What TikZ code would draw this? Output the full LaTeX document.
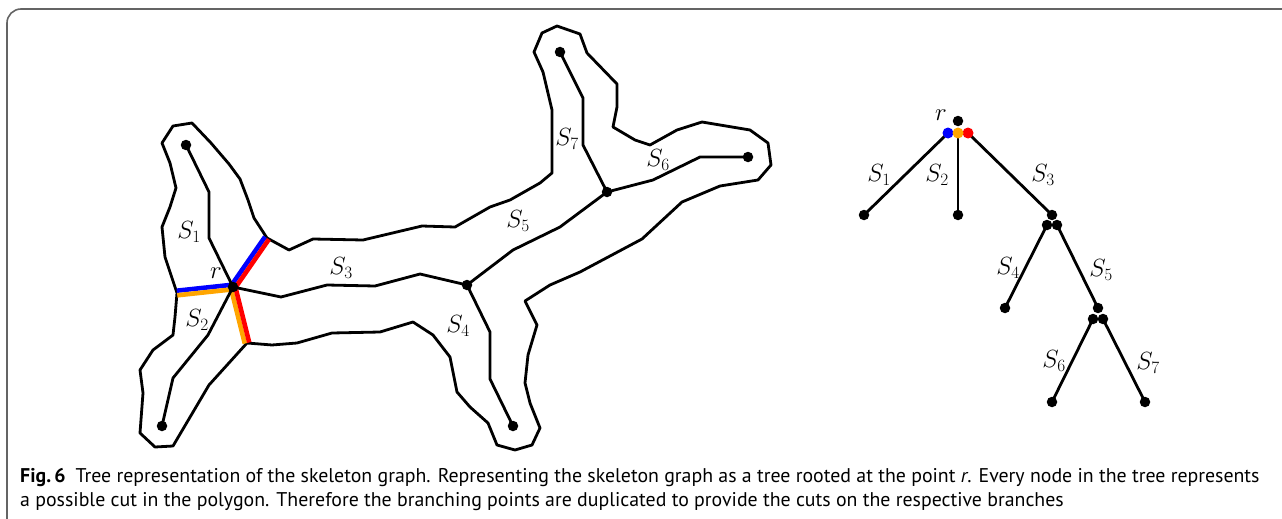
\documentclass[tikz,border=0pt]{standalone}
\usepackage{fontspec}
\setsansfont{PT Sans}
\begin{document}
\begin{tikzpicture}[x=1pt,y=-1pt,
  outline/.style={line width=2.8pt,line join=round},
  skel/.style={line width=2.8pt,line join=round},
  dot/.style={circle,fill=black,inner sep=0pt,minimum size=10.5pt},
  cdot/.style={circle,fill=#1,inner sep=0pt,minimum size=11pt},
  lab/.style={font=\fontsize{24}{24}\selectfont,inner sep=0pt},
  cut/.style={line width=4.6pt,draw=#1},
  captext/.style={anchor=base west,inner sep=0pt,font=\sffamily\fontsize{19.85}{24}\selectfont}]
\useasboundingbox (0,0) rectangle (1282,519);
\definecolor{cutblue}{RGB}{0,0,255}
\definecolor{cutred}{RGB}{255,0,0}
\definecolor{cutorange}{RGB}{255,165,0}
\definecolor{framegray}{RGB}{100,100,100}

% frame of the figure
\draw[framegray,line width=1.6pt,rounded corners=14pt] (7,519) -- (7,9) -- (1282,9);

% polygon outline
\draw[outline] (267,238) -- (289,250) -- (313,239) -- (363,240) -- (422,226) -- (455,227)
  -- (490,207) -- (510,200) -- (540,183) -- (552,173) -- (552,110) -- (543,72) -- (534,52)
  -- (542,33) -- (557,26) -- (580,34) -- (587,53) -- (617,84) -- (617,107) -- (613,127)
  -- (635,140) -- (650,145) -- (677,130) -- (702,122) -- (750,130) -- (768,143) -- (771,165)
  -- (758,180) -- (720,186) -- (682,202) -- (642,239) -- (580,272) -- (550,285) -- (525,301)
  -- (537,325) -- (528,355) -- (525,383) -- (530,403) -- (540,428) -- (532,445) -- (515,450)
  -- (497,445) -- (488,423) -- (470,407) -- (457,392) -- (450,357) -- (433,335) -- (413,322)
  -- (380,332) -- (332,333) -- (297,343) -- (272,345) -- (247,343) -- (209,385) -- (173,446)
  -- (155,447) -- (140,433) -- (143,393) -- (140,370) -- (153,350) -- (173,335) -- (175,317)
  -- (177,293) -- (165,257) -- (162,227) -- (170,207) -- (176,188) -- (170,163) -- (162,143)
  -- (173,126) -- (192,123) -- (211,143) -- (229,164) -- (240,179) -- (248,200) -- (254,218)
  -- cycle;

% cut ends on the outline
\coordinate (ct) at (267,238);
\coordinate (cl) at (177,293);
\coordinate (cb) at (247,343);
\coordinate (rc) at (233,287);

% cuts around r, two colours per cut
\draw[cut=cutblue]   ([shift={(-1.9,-1.3)}]rc) -- ([shift={(-1.9,-1.3)}]ct);
\draw[cut=cutred]    ([shift={(1.9,1.3)}]rc) -- ([shift={(1.9,1.3)}]ct);
\draw[cut=cutblue]   ([shift={(-0.25,-2.3)}]cl) -- ([shift={(-0.25,-2.3)}]rc);
\draw[cut=cutorange] ([shift={(0.25,2.3)}]cl) -- ([shift={(0.25,2.3)}]rc);
\draw[cut=cutorange] ([shift={(-2.2,0.55)}]rc) -- ([shift={(-2.2,0.55)}]cb);
\draw[cut=cutred]    ([shift={(2.2,-0.55)}]rc) -- ([shift={(2.2,-0.55)}]cb);

% skeleton graph
\node[dot] (r)  at (233,287) {};
\node[dot] (e1) at (186,145) {};
\node[dot] (e2) at (162,426) {};
\node[dot] (j1) at (467,285) {};
\node[dot] (e4) at (513,426) {};
\node[dot] (j2) at (607,192) {};
\node[dot] (e6) at (748,157) {};
\node[dot] (e7) at (560,52) {};

\draw[skel] (r.center) -- (209,238) -- (209,192) -- (e1.center);
\draw[skel] (r.center) -- (208,335) -- (173,378) -- (e2.center);
\draw[skel] (r.center) -- (281,297) -- (327,285) -- (375,286) -- (420,274) -- (j1.center);
\draw[skel] (j1.center) -- (490,332) -- (490,379) -- (e4.center);
\draw[skel] (j1.center) -- (513,250) -- (560,227) -- (j2.center);
\draw[skel] (j2.center) -- (653,180) -- (700,157) -- (e6.center);
\draw[skel] (j2.center) -- (583,145) -- (583,98) -- (e7.center);

\node[lab] (lr)  at (216,273) {$r$};
\node[lab] (l1)  at (189,232) {$S_1$};
\node[lab] (l2)  at (197,320) {$S_2$};
\node[lab] (l3)  at (341,268) {$S_3$};
\node[lab] (l4)  at (458,326) {$S_4$};
\node[lab] (l5)  at (518,221) {$S_5$};
\node[lab] (l6)  at (658,160) {$S_6$};
\node[lab] (l7)  at (567,139) {$S_7$};

% tree
\node[dot] (tr)  at (958,121) {};
\coordinate (tb) at (948,133);
\coordinate (to) at (958,133);
\coordinate (tR) at (968,133);
\node[dot] (t1)  at (864,215) {};
\node[dot] (t2)  at (958,215) {};
\node[dot] (t3)  at (1052,215) {};
\node[dot] (t3a) at (1047,225) {};
\node[dot] (t3b) at (1057,225) {};
\node[dot] (t4)  at (1005,308) {};
\node[dot] (t5)  at (1098,308) {};
\node[dot] (t5a) at (1093,319) {};
\node[dot] (t5b) at (1103,319) {};
\node[dot] (t6)  at (1052,402) {};
\node[dot] (t7)  at (1145,402) {};

\draw[skel] (tb) -- (t1.center);
\draw[skel] (to) -- (t2.center);
\draw[skel] (tR) -- (t3.center);
\draw[skel] (t3a.center) -- (t4.center);
\draw[skel] (t3b.center) -- (t5.center);
\draw[skel] (t5a.center) -- (t6.center);
\draw[skel] (t5b.center) -- (t7.center);

% coloured copies of the root, one per branch
\node[cdot=cutblue]   (tbd) at (tb) {};
\node[cdot=cutred]    (tRd) at (tR) {};
\node[cdot=cutorange] (tod) at (to) {};

\node[lab] (tlr) at (941,115) {$r$};
\node[lab] (tl1) at (879,175) {$S_1$};
\node[lab] (tl2) at (937,175) {$S_2$};
\node[lab] (tl3) at (1043,175) {$S_3$};
\node[lab] (tl4) at (1008,268) {$S_4$};
\node[lab] (tl5) at (1101,270) {$S_5$};
\node[lab] (tl6) at (1054,361) {$S_6$};
\node[lab] (tl7) at (1148,363) {$S_7$};

% caption
\node[captext] (cap1) at (20,482)
  {\textbf{Fig.\,6}\enspace Tree representation of the skeleton graph. Representing the skeleton graph as a tree rooted at the point \textit{r}. Every node in the tree represents};
\node[captext] (cap2) at (20,506)
  {a possible cut in the polygon. Therefore the branching points are duplicated to provide the cuts on the respective branches};
\end{tikzpicture}
\end{document}
